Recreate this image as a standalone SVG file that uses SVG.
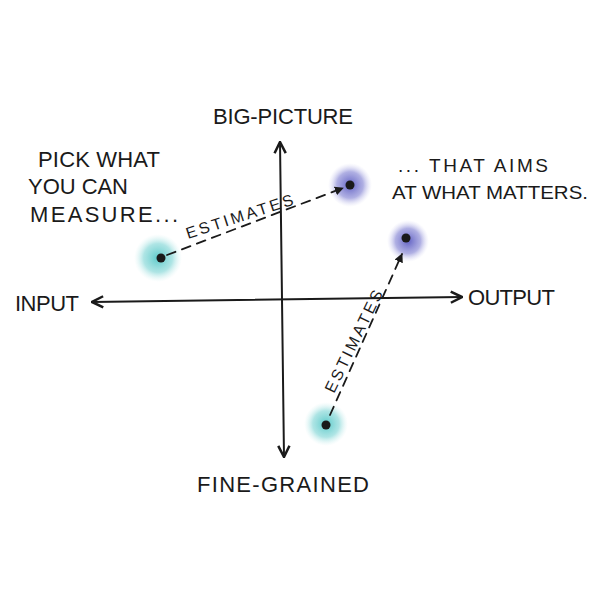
<svg xmlns="http://www.w3.org/2000/svg" width="600" height="600" viewBox="0 0 600 600">
  <style>
    text { font-family: "Liberation Sans", Arial, sans-serif; fill: #1a1a1a; }
    .lbl { font-size: 22px; }
    .rt { font-size: 19px; }
    .est { font-size: 16px; }
    .axis { stroke: #1a1a1a; stroke-width: 2; fill: none; stroke-linecap: round; }
    .dash { stroke: #1a1a1a; stroke-width: 1.8; fill: none; stroke-dasharray: 9 7; stroke-linecap: round; }
    .dot { fill: #1a1a1a; }
  </style>
  <defs>
    <radialGradient id="teal">
      <stop offset="0" stop-color="#5ccaca"/>
      <stop offset="0.6" stop-color="#9adede" stop-opacity="0.8"/>
      <stop offset="1" stop-color="#d6f2f2" stop-opacity="0"/>
    </radialGradient>
    <radialGradient id="blue">
      <stop offset="0" stop-color="#6262c4"/>
      <stop offset="0.6" stop-color="#9c9cdc" stop-opacity="0.8"/>
      <stop offset="1" stop-color="#dadaf4" stop-opacity="0"/>
    </radialGradient>
    <marker id="ah" viewBox="0 0 10 10" refX="9" refY="5" markerWidth="7" markerHeight="7" orient="auto-start-reverse">
      <path d="M1,1 L9,5 L1,9" fill="none" stroke="#1a1a1a" stroke-width="1.8"/>
    </marker>
    <marker id="ahs" viewBox="0 0 10 10" refX="9" refY="5" markerWidth="5" markerHeight="5" orient="auto">
      <path d="M0,0 L10,5 L0,10 Z" fill="#1a1a1a"/>
    </marker>
  </defs>
  <rect width="600" height="600" fill="#ffffff"/>

  <g id="axes">
    <path class="axis" d="M280,142 L284,457" marker-start="url(#ah)" marker-end="url(#ah)"/>
    <path class="axis" d="M92,302 L462,297" marker-start="url(#ah)" marker-end="url(#ah)"/>
  </g>

  <g id="labels">
    <text class="lbl" x="283" y="124" text-anchor="middle" textLength="140">BIG-PICTURE</text>
    <text class="lbl" x="283" y="492" text-anchor="middle" textLength="172">FINE-GRAINED</text>
    <text class="lbl" x="15" y="311" font-size="20" textLength="64">INPUT</text>
    <text class="lbl" x="468" y="305" textLength="87">OUTPUT</text>
    <text class="lbl" x="38" y="167" textLength="122">PICK WHAT</text>
    <text class="lbl" x="28" y="194" textLength="100">YOU CAN</text>
    <text class="lbl" x="30" y="222" textLength="148">MEASURE...</text>
    <text class="rt" x="398" y="172" textLength="150">... THAT AIMS</text>
    <text class="rt" x="392" y="199" textLength="196" lengthAdjust="spacingAndGlyphs">AT WHAT MATTERS.</text>
  </g>

  <g id="node-measure-fine">
    <circle cx="326" cy="424" r="22" fill="url(#teal)"/>
    <circle class="dot" cx="326" cy="425" r="4.5"/>
  </g>
  <g id="node-measure-big">
    <circle cx="158" cy="258" r="24" fill="url(#teal)"/>
    <circle class="dot" cx="161" cy="258" r="4.5"/>
  </g>
  <g id="node-matters-big">
    <circle cx="350" cy="185" r="22" fill="url(#blue)"/>
    <circle class="dot" cx="350" cy="185" r="4.5"/>
  </g>
  <g id="node-matters-output">
    <circle cx="408" cy="241" r="21" fill="url(#blue)"/>
    <circle class="dot" cx="406" cy="238" r="4.5"/>
  </g>

  <g id="connectors">
    <path class="dash" d="M167,255 L343,188" marker-end="url(#ahs)"/>
    <text class="est" x="0" y="0" transform="translate(188,239) rotate(-18)" textLength="112">ESTIMATES</text>
    <path class="dash" d="M330,415 L402,254" marker-end="url(#ahs)"/>
    <text class="est" x="0" y="0" transform="translate(334,394) rotate(-64)" textLength="112">ESTIMATES</text>
  </g>
</svg>
